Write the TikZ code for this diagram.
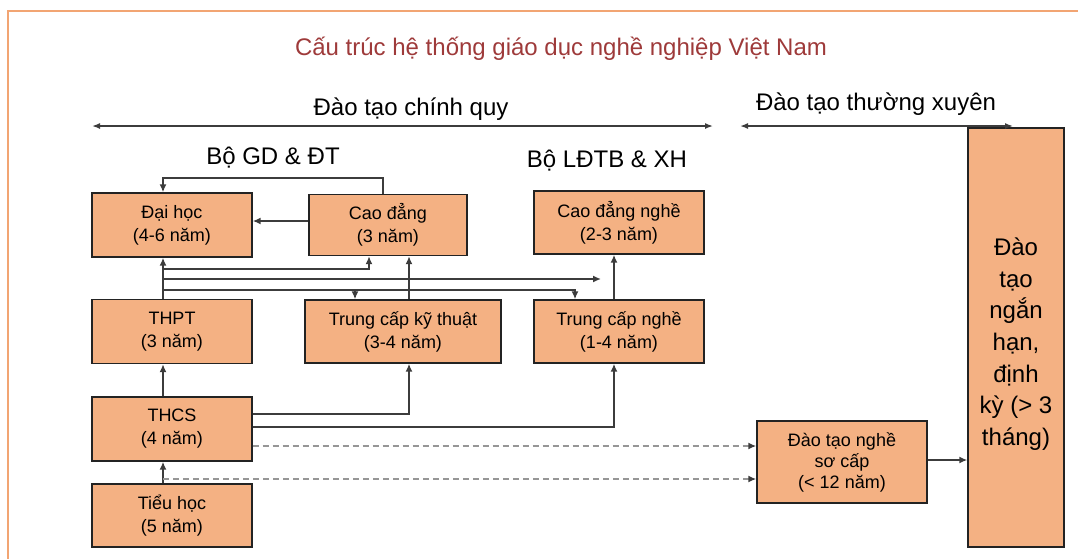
\documentclass[tikz,border=0pt]{standalone}
\usepackage{fontspec}
\setmainfont{Liberation Sans}
\usetikzlibrary{arrows.meta}
\definecolor{boxfill}{RGB}{244,177,131}
\definecolor{boxline}{RGB}{35,35,35}
\definecolor{conn}{RGB}{60,60,60}
\definecolor{frameor}{RGB}{242,165,115}
\definecolor{titlered}{RGB}{158,58,58}
\definecolor{dashgray}{RGB}{150,150,150}
\tikzset{
  box/.style={draw=boxline, line width=1.4pt, fill=boxfill, align=center, inner sep=0pt,
    font=\fontsize{18}{23}\selectfont},
  arr/.style={draw=conn, line width=1.5pt, -{Latex[length=8pt,width=7pt]}},
  darr/.style={draw=dashgray, line width=1.5pt, dash pattern=on 6pt off 4pt,
    -{Latex[length=8pt,width=7pt,color=conn]}},
  dblarr/.style={draw=conn, line width=1.5pt, {Latex[length=8pt,width=6pt]}-{Latex[length=8pt,width=6pt]}},
  lbl/.style={font=\fontsize{24}{28}\selectfont, anchor=base, inner sep=0pt}
}
\begin{document}
\begin{tikzpicture}[x=1pt,y=-1pt]
\useasboundingbox (0,0) rectangle (1078,558);
\draw[frameor, line width=2pt] (8,560) -- (8,11) -- (1080,11);

\node[lbl, text=titlered] (title) at (561,55) {Cấu trúc hệ thống giáo dục nghề nghiệp Việt Nam};
\node[lbl] (chinhquy) at (411,115) {Đào tạo chính quy};
\node[lbl] (thuongxuyen) at (876,110) {Đào tạo thường xuyên};
\node[lbl] (bogd) at (273,164) {Bộ GD \& ĐT};
\node[lbl] (bold) at (607,167) {Bộ LĐTB \& XH};

\coordinate (la) at (92,126);
\coordinate (lb) at (713,126);
\coordinate (lc) at (740,126);
\coordinate (ld) at (1013,126);

\node[box, minimum width=160pt, minimum height=64pt] (dh) at (172,225) {Đại học\\(4-6 năm)};
\node[box, minimum width=158pt, minimum height=61pt] (cd) at (388,225) {Cao đẳng\\(3 năm)};
\node[box, minimum width=170pt, minimum height=63pt] (cdn) at (619,222.5) {Cao đẳng nghề\\(2-3 năm)};
\node[box, minimum width=160pt, minimum height=64pt] (thpt) at (172,331.5) {THPT\\(3 năm)};
\node[box, minimum width=196pt, minimum height=63pt] (tckt) at (403,331.5) {Trung cấp kỹ thuật\\(3-4 năm)};
\node[box, minimum width=170pt, minimum height=63pt] (tcn) at (619,331.5) {Trung cấp nghề\\(1-4 năm)};
\node[box, minimum width=160pt, minimum height=64pt] (thcs) at (172,429) {THCS\\(4 năm)};
\node[box, minimum width=160pt, minimum height=63pt] (th) at (172,515.5) {Tiểu học\\(5 năm)};
\node[box, minimum width=170pt, minimum height=82pt, font=\fontsize{18}{21}\selectfont] (sc) at (842,462) {Đào tạo nghề\\sơ cấp\\(< 12 năm)};
\node[box, minimum width=96pt, minimum height=419pt, font=\fontsize{24}{31.7}\selectfont] (big) at (1016,337.5) {\rule{0pt}{31pt}Đào\\tạo\\ngắn\\hạn,\\định\\kỳ (> 3\\tháng)};

\coordinate (xa) at (163,0);
\coordinate (xb) at (409,0);
\coordinate (xc) at (614,0);
\coordinate (xd) at (383,0);
\coordinate (xe) at (369,0);
\coordinate (xf) at (355,0);
\coordinate (xg) at (575,0);
\coordinate (ya) at (0,178);
\coordinate (yb) at (0,269);
\coordinate (yc) at (0,279);
\coordinate (yd) at (0,290);
\coordinate (ye) at (0,414);
\coordinate (yf) at (0,427);
\coordinate (yg) at (0,446);
\coordinate (yh) at (0,479);
\coordinate (yi) at (0,221);
\coordinate (yj) at (0,460);
\coordinate (tipc) at (601,279);

\draw[dblarr] (la) -- (lb);
\draw[dblarr] (lc) -- (ld);

\draw[arr] (cd.north -| xd) -- (xd |- ya) -- (xa |- ya) -- (dh.north -| xa);
\draw[arr] (cd.west |- yi) -- (dh.east |- yi);
\draw[arr] (thpt.north -| xa) -- (dh.south -| xa);
\draw[arr] (xa |- yb) -- (xe |- yb) -- (cd.south -| xe);
\draw[arr] (xa |- yc) -- (tipc);
\draw[arr] (xa |- yd) -- (xg |- yd) -- (tcn.north -| xg);
\draw[arr] (xf |- yd) -- (tckt.north -| xf);
\draw[arr] (tckt.north -| xb) -- (cd.south -| xb);
\draw[arr] (tcn.north -| xc) -- (cdn.south -| xc);
\draw[arr] (thcs.north -| xa) -- (thpt.south -| xa);
\draw[arr] (th.north -| xa) -- (thcs.south -| xa);
\draw[arr] (thcs.east |- ye) -- (xb |- ye) -- (tckt.south -| xb);
\draw[arr] (thcs.east |- yf) -- (xc |- yf) -- (tcn.south -| xc);
\draw[darr] (thcs.east |- yg) -- (sc.west |- yg);
\draw[darr] (xa |- yh) -- (sc.west |- yh);
\draw[arr] (sc.east |- yj) -- (big.west |- yj);
\end{tikzpicture}
\end{document}
